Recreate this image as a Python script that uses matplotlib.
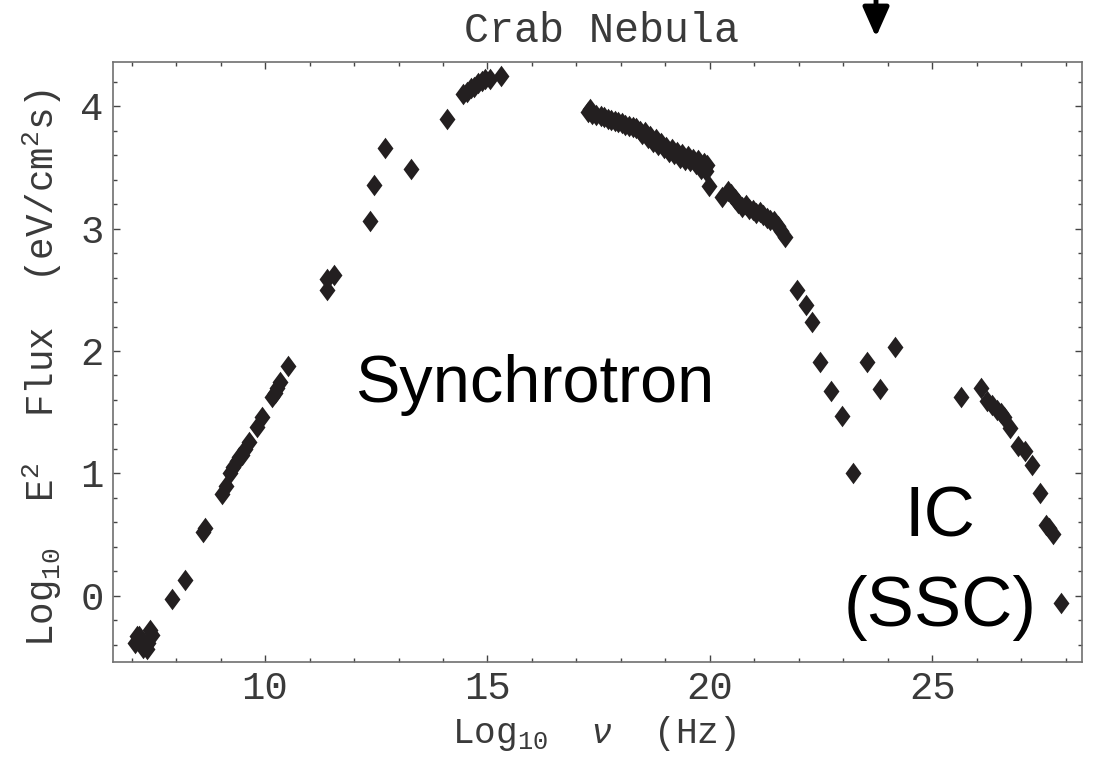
import numpy as np
import matplotlib
matplotlib.use('Agg')
import matplotlib.pyplot as plt

plt.rcParams['mathtext.fontset'] = 'custom'
plt.rcParams['mathtext.rm'] = 'Liberation Mono'
plt.rcParams['mathtext.it'] = 'Liberation Sans:italic'
plt.rcParams['mathtext.bf'] = 'Liberation Mono:bold'

# synchrotron part (radio -> optical)
x_sync = [7.08, 7.12, 7.17, 7.26, 7.34, 7.38, 7.41, 7.45, 7.90, 8.19, 8.60, 8.65,
          9.04, 9.12, 9.21, 9.29, 9.36, 9.42, 9.48, 9.55, 9.63, 9.81, 9.93,
          10.15, 10.22, 10.28, 10.34, 10.52, 11.39, 11.39, 11.54, 12.35, 12.45,
          12.70, 13.27, 14.10, 14.45, 14.55, 14.62, 14.70, 14.78, 14.88, 14.95,
          15.05, 15.31]
y_sync = [-0.39, -0.33, -0.33, -0.43, -0.44, -0.39, -0.28, -0.32, -0.03, 0.13, 0.52, 0.55,
          0.83, 0.90, 1.00, 1.05, 1.10, 1.13, 1.15, 1.20, 1.26, 1.38, 1.46,
          1.62, 1.66, 1.70, 1.75, 1.88, 2.50, 2.59, 2.62, 3.06, 3.36,
          3.66, 3.49, 3.90, 4.10, 4.12, 4.15, 4.16, 4.19, 4.21, 4.22,
          4.22, 4.25]

# x-ray band
x_xray = [17.25, 17.31, 17.36, 17.45, 17.55, 17.62, 17.70, 17.78, 17.86, 17.94, 18.02,
          18.10, 18.18, 18.26, 18.34, 18.42, 18.48, 18.54, 18.60, 18.66, 18.72, 18.78,
          18.84, 18.90, 18.96, 19.02, 19.08, 19.14, 19.20, 19.26, 19.32, 19.38, 19.44,
          19.50, 19.56, 19.62, 19.68, 19.74, 19.80, 19.86, 19.92, 19.94, 19.97,
          20.28, 20.40, 20.48, 20.56, 20.64, 20.72, 20.80, 20.88, 20.96, 21.04, 21.12,
          21.20, 21.28, 21.36, 21.44, 21.52, 21.60, 21.69]
y_xray = [3.95, 3.98, 3.94, 3.93, 3.92, 3.91, 3.90, 3.89, 3.88, 3.87, 3.86,
          3.85, 3.84, 3.83, 3.82, 3.80, 3.77, 3.79, 3.74, 3.76, 3.71, 3.73,
          3.68, 3.70, 3.66, 3.67, 3.63, 3.65, 3.61, 3.63, 3.58, 3.61, 3.56,
          3.59, 3.55, 3.57, 3.53, 3.56, 3.49, 3.54, 3.47, 3.52, 3.35,
          3.26, 3.31, 3.28, 3.24, 3.21, 3.18, 3.19, 3.16, 3.15, 3.13, 3.14,
          3.11, 3.09, 3.07, 3.06, 3.02, 2.98, 2.93]

# gamma rays
x_gamma = [21.96, 22.15, 22.30, 22.47, 22.72, 22.96, 23.21, 23.52, 23.82, 24.17,
           25.65, 26.09, 26.22, 26.35, 26.46, 26.54, 26.62, 26.74, 26.92, 27.08,
           27.24, 27.42, 27.56, 27.62, 27.72, 27.88]
y_gamma = [2.50, 2.38, 2.24, 1.91, 1.67, 1.47, 1.00, 1.91, 1.69, 2.03,
           1.62, 1.70, 1.59, 1.56, 1.52, 1.49, 1.46, 1.37, 1.22, 1.18,
           1.07, 0.84, 0.58, 0.55, 0.50, -0.06]

x = np.array(x_sync + x_xray + x_gamma)
y = np.array(y_sync + y_xray + y_gamma)

mono = 'Liberation Mono'
gray = '#3a3a3a'

fig = plt.figure(figsize=(10.96, 7.57), dpi=100)
ax = fig.add_axes([0.1034, 0.1259, 0.8841, 0.7918])

diamond = [(-0.37, 0), (0, 0.5), (0.37, 0), (0, -0.5)]
ax.plot(x, y, linestyle='none', marker=diamond, markersize=15.5,
        color='#231f20', markeredgewidth=0)

ax.set_xlim(6.59, 28.37)
ax.set_ylim(-0.54, 4.36)
ax.set_xticks([10, 15, 20, 25])
ax.set_xticks(np.arange(7, 29, 1), minor=True)
ax.set_yticks([0, 1, 2, 3, 4])
ax.set_yticks(np.arange(-0.4, 4.3, 0.2), minor=True)
ax.tick_params(which='both', direction='in', top=True, right=True,
               color='#444444', width=1)
ax.tick_params(which='major', length=5, labelsize=28, labelcolor=gray, pad=7)
ax.tick_params(which='minor', length=3)
for lab in ax.get_xticklabels() + ax.get_yticklabels():
    lab.set_family(mono)
for s in ax.spines.values():
    s.set_color('#707070')
    s.set_linewidth(1.2)

ax.text(16.07, 1.58, 'Synchrotron', fontsize=48, family='Liberation Sans',
        ha='center', va='baseline')
ax.text(25.18, 0.48, 'IC', fontsize=51, family='Liberation Sans',
        ha='center', va='baseline')
ax.text(25.18, -0.25, '(SSC)', fontsize=51, family='Liberation Sans',
        ha='center', va='baseline')

fig.text(602 / 1096, 1 - 41.7 / 757, 'Crab Nebula', family=mono, fontsize=30,
         color=gray, ha='center', va='baseline')
fig.text(594 / 1096, 1 - 743 / 757, r'Log$_{10}$  $\nu$  (Hz)', family=mono,
         fontsize=26, color=gray, ha='center', va='baseline')
fig.text(42 / 1096, 1 - 368 / 757, r'Log$_{10}$  E$^2$  Flux  (eV/cm$^2$s)',
         family=mono, fontsize=27, color=gray, rotation=90, ha='center', va='center')

ax.annotate('', xy=(876 / 1096, 1 - 37 / 757), xytext=(876 / 1096, 1.0),
            xycoords='figure fraction', textcoords='figure fraction',
            arrowprops=dict(arrowstyle='-|>,head_length=0.9,head_width=0.4',
                            mutation_scale=20, lw=3.5, color='black',
                            shrinkA=0, shrinkB=0))

fig.savefig('out.png', dpi=100)
